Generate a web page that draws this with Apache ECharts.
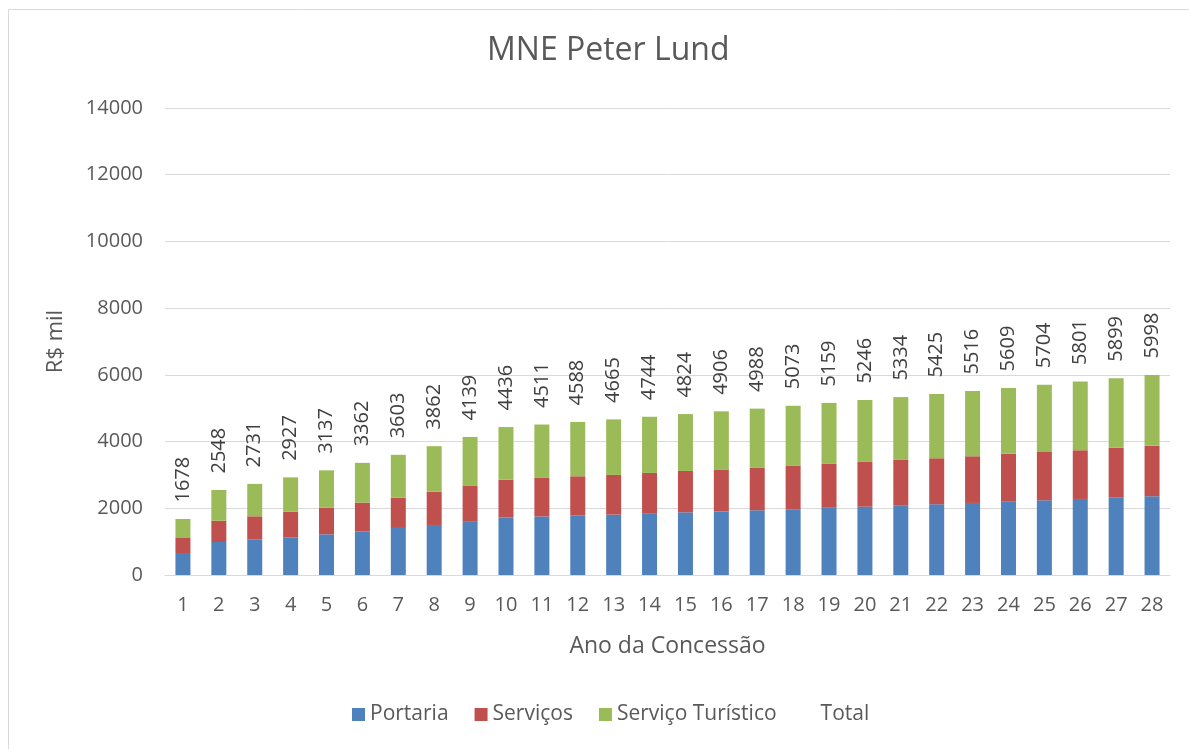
<!DOCTYPE html>
<html>
<head>
<meta charset="utf-8">
<script src="https://cdn.jsdelivr.net/npm/echarts@6/dist/echarts.min.js"></script>
<style>
  html, body { margin: 0; padding: 0; background: #fff; }
  #chart { width: 1189px; height: 749px; }
</style>
</head>
<body>
<div id="chart"></div>
<script>
const anos = ['1', '2', '3', '4', '5', '6', '7', '8', '9', '10', '11', '12', '13', '14',
  '15', '16', '17', '18', '19', '20', '21', '22', '23', '24', '25', '26', '27', '28']

const portaria = [660, 990, 1060, 1130, 1220, 1310, 1410, 1500, 1615, 1725, 1755, 1780, 1810, 1835,
  1880, 1905, 1940, 1970, 2015, 2050, 2090, 2120, 2160, 2210, 2240, 2280, 2330, 2360]
const servicos = [450, 635, 700, 767, 800, 860, 910, 1000, 1070, 1135, 1155, 1180, 1190, 1225,
  1240, 1260, 1270, 1300, 1315, 1340, 1360, 1380, 1400, 1430, 1450, 1460, 1490, 1520]
const turistico = [568, 923, 971, 1030, 1117, 1192, 1283, 1362, 1454, 1576, 1601, 1628, 1665, 1684,
  1704, 1741, 1778, 1803, 1829, 1856, 1884, 1925, 1956, 1969, 2014, 2061, 2079, 2118]
const total = [1678, 2548, 2731, 2927, 3137, 3362, 3603, 3862, 4139, 4436, 4511, 4588, 4665, 4744,
  4824, 4906, 4988, 5073, 5159, 5246, 5334, 5425, 5516, 5609, 5704, 5801, 5899, 5998]

const font = 'Open Sans'
const textColor = '#595959'

const chart = echarts.init(document.getElementById('chart'))

const option = {
  animation: false,
  title: {
    text: 'MNE Peter Lund',
    left: 482,
    top: 30,
    textStyle: { fontFamily: font, fontSize: 32, fontWeight: 'normal', color: textColor }
  },
  graphic: [
    {
      type: 'rect',
      shape: { x: 8.5, y: 9.5, width: 1200, height: 800 },
      style: { fill: 'none', stroke: '#d9d9d9', lineWidth: 1 },
      silent: true
    }
  ],
  color: ['#4f81bd', '#c0504d', '#9bbb59'],
  legend: {
    bottom: 19,
    left: 347,
    itemWidth: 13,
    itemHeight: 13,
    itemGap: 26,
    textStyle: { fontFamily: font, fontSize: 21, color: textColor },
    data: [
      { name: 'Portaria', icon: 'rect' },
      { name: 'Serviços', icon: 'rect' },
      { name: 'Serviço Turístico', icon: 'rect' },
      { name: 'Total', icon: 'rect', itemStyle: { opacity: 0 } }
    ]
  },
  grid: { left: 165, right: 19, top: 108, bottom: 174 },
  xAxis: {
    type: 'category',
    data: anos,
    name: 'Ano da Concessão',
    nameLocation: 'middle',
    nameGap: 60,
    nameTextStyle: { fontFamily: font, fontSize: 23, color: textColor },
    axisLine: { lineStyle: { color: '#d9d9d9', width: 1 } },
    axisTick: { show: false },
    axisLabel: { fontFamily: font, fontSize: 20, color: textColor, margin: 20 }
  },
  yAxis: {
    type: 'value',
    min: 0,
    max: 14000,
    interval: 2000,
    name: 'R$ mil',
    nameLocation: 'middle',
    nameGap: 98,
    nameTextStyle: { fontFamily: font, fontSize: 22, color: textColor },
    axisLine: { show: false },
    axisTick: { show: false },
    axisLabel: { fontFamily: font, fontSize: 20, color: textColor, margin: 22, formatter: (v) => String(v) },
    splitLine: { lineStyle: { color: '#d9d9d9', width: 1 } }
  },
  series: [
    { name: 'Portaria', type: 'bar', stack: 'a', barWidth: 15, data: portaria },
    { name: 'Serviços', type: 'bar', stack: 'a', barWidth: 15, data: servicos },
    { name: 'Serviço Turístico', type: 'bar', stack: 'a', barWidth: 15, data: turistico },
    {
      name: 'Total',
      type: 'line',
      data: total,
      symbol: 'circle',
      symbolSize: 1,
      itemStyle: { color: 'rgba(0,0,0,0)' },
      lineStyle: { opacity: 0 },
      label: {
        show: true,
        position: 'top',
        distance: 16,
        rotate: 90,
        align: 'left',
        verticalAlign: 'middle',
        fontFamily: font,
        fontSize: 20,
        color: '#404040'
      }
    }
  ]
}

chart.setOption(option)
</script>
</body>
</html>
